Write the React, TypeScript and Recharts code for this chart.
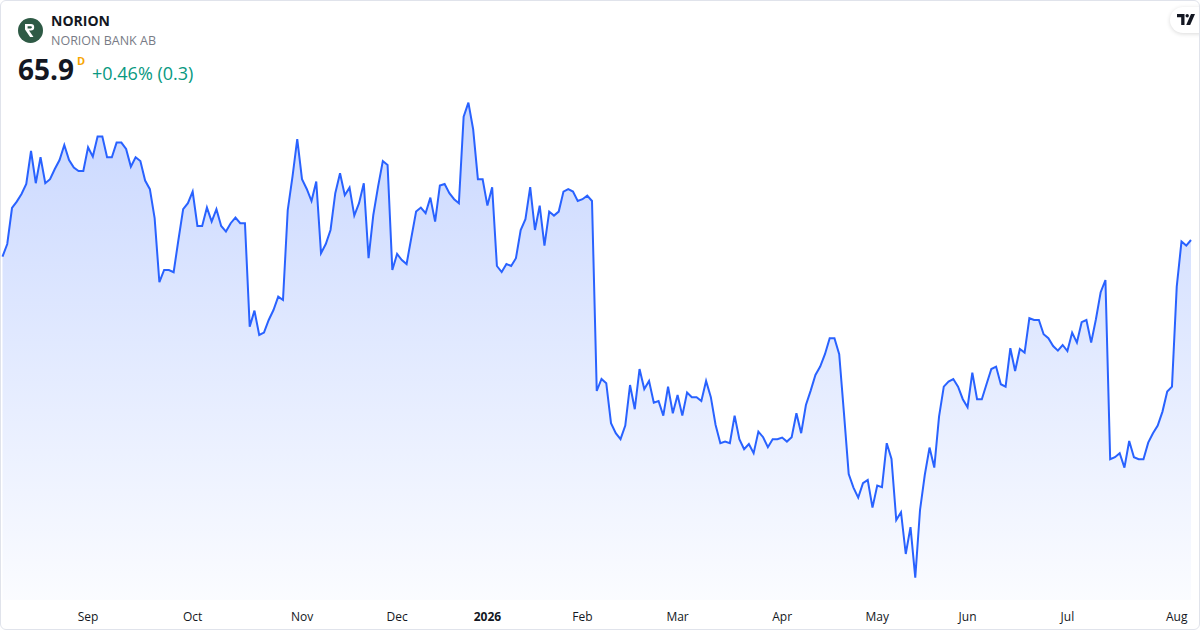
import React from 'react';
import { AreaChart, Area, XAxis, YAxis } from 'recharts';

// daily closes, Aug 6 2025 .. Aug 6 2026 (Stockholm trading days)
const closes: number[] = [
  65.07, 65.70, 67.50, 67.82, 68.20, 68.70, 70.35, 68.74, 70.04, 68.74,
  68.94, 69.45, 69.90, 70.65, 69.90, 69.52, 69.35, 69.35, 70.54, 70.07,
  71.07, 71.07, 70.04, 70.04, 70.77, 70.77, 70.45, 69.57, 70.04, 69.85,
  68.87, 68.44, 66.99, 63.79, 64.40, 64.40, 64.29, 65.90, 67.44, 67.74,
  68.32, 66.60, 66.60, 67.52, 66.82, 67.44, 66.60, 66.32, 66.74, 67.02,
  66.74, 66.74, 61.57, 62.37, 61.15, 61.27, 61.90, 62.40, 63.07, 62.90,
  67.40, 69.07, 70.94, 68.94, 68.45, 67.85, 68.82, 65.24, 65.70, 66.40,
  68.24, 69.24, 68.14, 68.52, 67.12, 67.74, 68.74, 64.99, 67.15, 68.57,
  69.85, 69.65, 64.40, 65.20, 64.90, 64.70, 66.02, 67.32, 67.52, 67.24,
  68.02, 66.82, 68.62, 68.70, 68.24, 67.94, 67.74, 72.07, 72.77, 71.44,
  68.94, 68.94, 67.62, 68.54, 64.60, 64.30, 64.70, 64.60, 64.99, 66.40,
  66.94, 68.54, 66.40, 67.62, 65.62, 67.32, 67.12, 67.32, 68.32, 68.44,
  68.32, 67.85, 67.94, 68.12, 67.85,
  58.35, 58.95, 58.74, 56.74, 56.24, 55.94, 56.62, 58.65, 57.44, 59.45,
  58.45, 58.85, 57.77, 57.85, 57.12, 58.57, 57.24, 58.15, 57.12, 58.27,
  58.04, 58.04, 57.85, 58.85, 58.04, 56.65, 55.74, 55.82, 55.74, 57.12,
  55.94, 55.44, 55.70, 55.24, 56.32, 56.04, 55.54, 55.94, 55.94, 56.02,
  55.82, 56.04, 57.24, 56.24, 57.65, 58.37, 59.15, 59.57, 60.19, 60.99,
  60.99, 60.19, 57.24, 54.20, 53.52, 53.02, 53.74, 53.90, 52.52, 53.62,
  53.54, 55.74, 54.95, 51.90, 52.29, 50.20, 51.54, 49.02, 52.40, 54.15,
  55.52, 54.52, 57.07, 58.57, 58.82, 58.95, 58.57, 57.94, 57.54, 59.27,
  57.94, 57.94, 58.70, 59.45, 59.57, 58.69, 58.57, 60.49, 59.35, 60.45,
  60.27, 61.99, 61.90, 61.90, 61.19, 60.99, 60.60, 60.37, 60.65, 60.35,
  61.27, 60.77, 61.79, 61.90, 60.77, 61.94, 63.29, 63.90, 54.94, 55.04,
  55.24, 54.52, 55.85, 55.04, 54.94, 54.94, 55.77, 56.24, 56.62, 57.32,
  58.32, 58.57, 63.57, 65.82, 65.62, 65.90,
];

// index of first trading day of each month, and its label
const monthTicks = [18, 40, 63, 83, 102, 122, 142, 164, 184, 203, 224, 247];
const monthLabels = ['Sep', 'Oct', 'Nov', 'Dec', '2026', 'Feb', 'Mar', 'Apr', 'May', 'Jun', 'Jul', 'Aug'];

const priceDomain = [47.9, 77.9];

const data = closes.map((c, i) => ({ i, c }));

const FONT = '"Open Sans", "Noto Sans", sans-serif';
const BLUE = '#2962ff';

const MonthTick = (props: any) => {
  const { x, payload } = props;
  const idx = monthTicks.indexOf(payload.value);
  const label = monthLabels[idx] ?? '';
  return (
    <text
      x={x}
      y={621}
      textAnchor="middle"
      fontFamily={FONT}
      fontSize={12}
      fontWeight={label === '2026' ? 700 : 400}
      fill="#131722"
    >
      {label}
    </text>
  );
};

const App: React.FC = () => {
  return (
    <div
      style={{
        position: 'fixed',
        left: 0,
        top: 0,
        width: 1200,
        height: 630,
        background: '#fff',
        overflow: 'hidden',
        fontFamily: FONT,
      }}
    >
      <AreaChart
        width={1200}
        height={630}
        data={data}
        margin={{ top: 0, right: 9, bottom: 0, left: 2.5 }}
      >
        <defs>
          <linearGradient id="fillGrad" gradientUnits="userSpaceOnUse" x1="0" y1="0" x2="0" y2="600">
            <stop offset="0%" stopColor={BLUE} stopOpacity={0.3} />
            <stop offset="100%" stopColor={BLUE} stopOpacity={0.02} />
          </linearGradient>
        </defs>
        <XAxis
          dataKey="i"
          type="number"
          domain={[0, closes.length - 1]}
          ticks={monthTicks}
          tick={<MonthTick />}
          axisLine={false}
          tickLine={false}
          height={30}
          interval={0}
        />
        <YAxis hide domain={priceDomain} type="number" allowDataOverflow />
        <Area
          type="linear"
          dataKey="c"
          stroke={BLUE}
          strokeWidth={2}
          fill="url(#fillGrad)"
          fillOpacity={1}
          dot={false}
          activeDot={false}
          isAnimationActive={false}
        />
      </AreaChart>

      {/* header */}
      <svg
        width={260}
        height={100}
        style={{ position: 'absolute', left: 0, top: 0, pointerEvents: 'none' }}
      >
        <circle cx={30.5} cy={30.5} r={12.5} fill="#2e5a45" />
        <path
          d="M25 24 h6 a3.2 3.2 0 0 1 0 6.4 h-2 l4.5 6.6 h-3.4 l-5.1 -7.4 z M27.6 26.2 v2.2 h3.2 a1.1 1.1 0 0 0 0 -2.2 z"
          fill="#fff"
          fillRule="evenodd"
        />
        <text x={51} y={26} fontFamily={FONT} fontSize={14} fontWeight={700} fill="#131722">
          NORION
        </text>
        <text x={51} y={45} fontFamily={FONT} fontSize={12.5} fill="#787b86">
          NORION BANK AB
        </text>
        <text x={18} y={80} fontFamily={FONT} fontSize={28} fontWeight={700} fill="#131722">
          65.9
        </text>
        <text x={77} y={65} fontFamily={FONT} fontSize={11} fontWeight={700} fill="#f7a600">
          D
        </text>
        <text x={92} y={80} fontFamily={FONT} fontSize={18} fill="#089981">
          +0.46% (0.3)
        </text>
      </svg>

      {/* TradingView badge */}
      <div
        style={{
          position: 'absolute',
          right: -2,
          top: 7,
          width: 32,
          height: 26,
          background: '#fff',
          borderRadius: '13px 0 0 13px',
          boxShadow: '0 1px 4px rgba(0,0,0,0.15)',
        }}
      >
        <svg width={20} height={12} viewBox="0 0 20 12" style={{ position: 'absolute', left: 7, top: 7 }}>
          <path d="M0 0 H7.5 V11 H4.2 V3.2 H0 Z" fill="#131722" />
          <circle cx={10.2} cy={1.7} r={1.7} fill="#131722" />
          <path d="M14 0 H18 L13.2 11 H9.2 Z" fill="#131722" />
        </svg>
      </div>

      {/* card border */}
      <div
        style={{
          position: 'absolute',
          inset: 0,
          border: '1px solid #e0e3eb',
          borderRadius: 6,
          pointerEvents: 'none',
        }}
      />
    </div>
  );
};

export default App;
